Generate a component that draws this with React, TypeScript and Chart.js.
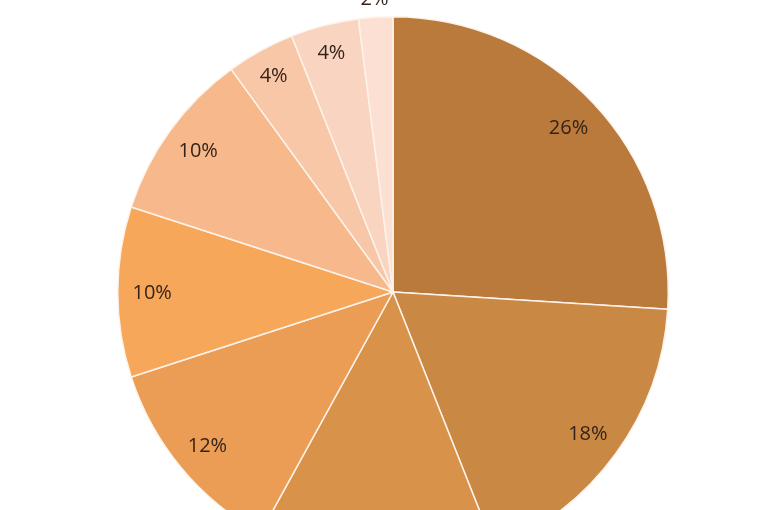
import React, { useEffect, useRef } from "react";
import { Chart, registerables } from "chart.js";

Chart.register(...registerables);

const labels = ["A", "B", "C", "D", "E", "F", "G", "H", "I"];
const values = [26, 18, 14, 12, 10, 10, 4, 4, 2];
const colors = [
  "#b97a3c",
  "#ca8845",
  "#d9924a",
  "#eb9c55",
  "#f6a75a",
  "#f7b98b",
  "#f8c7a8",
  "#f9d4c0",
  "#fbe0d3",
];

const labelPlugin = {
  id: "sliceLabels",
  afterDatasetsDraw(chart: any) {
    const ctx = chart.ctx;
    const meta = chart.getDatasetMeta(0);
    const total = values.reduce((a, b) => a + b, 0);
    ctx.save();
    ctx.font = '20px "Open Sans", sans-serif';
    ctx.fillStyle = "#33231a";
    ctx.textAlign = "center";
    ctx.textBaseline = "middle";
    meta.data.forEach((arc: any, i: number) => {
      const { x, y, startAngle, endAngle, outerRadius } = arc.getProps(
        ["x", "y", "startAngle", "endAngle", "outerRadius"],
        true
      );
      const mid = (startAngle + endAngle) / 2;
      const pct = Math.round((values[i] / total) * 100);
      const f = pct < 3 ? 1.07 : pct < 5 ? 0.9 : 0.875;
      const r = outerRadius * f;
      ctx.fillText(pct + "%", x + Math.cos(mid) * r, y + Math.sin(mid) * r + 1);
    });
    ctx.restore();
  },
};

export default function App() {
  const ref = useRef<HTMLCanvasElement>(null);
  useEffect(() => {
    if (!ref.current) return;
    const chart = new Chart(ref.current, {
      type: "pie",
      data: {
        labels,
        datasets: [
          {
            data: values,
            backgroundColor: colors,
            borderColor: "#fdf3ea",
            borderWidth: 1.5,
          },
        ],
      },
      options: {
        animation: false,
        responsive: false,
        maintainAspectRatio: false,
        layout: { padding: { top: 30, left: 0, right: 0, bottom: 0 } },
        plugins: {
          legend: { display: false },
          tooltip: { enabled: false },
        },
      },
      plugins: [labelPlugin],
    });
    return () => chart.destroy();
  }, []);
  return (
    <div
      style={{
        position: "fixed",
        left: 0,
        top: 0,
        width: 768,
        height: 510,
        overflow: "hidden",
        background: "#ffffff",
      }}
    >
      <canvas
        ref={ref}
        width={786}
        height={582}
        style={{ position: "absolute", left: 0, top: -14, width: 786, height: 582 }}
      />
    </div>
  );
}
